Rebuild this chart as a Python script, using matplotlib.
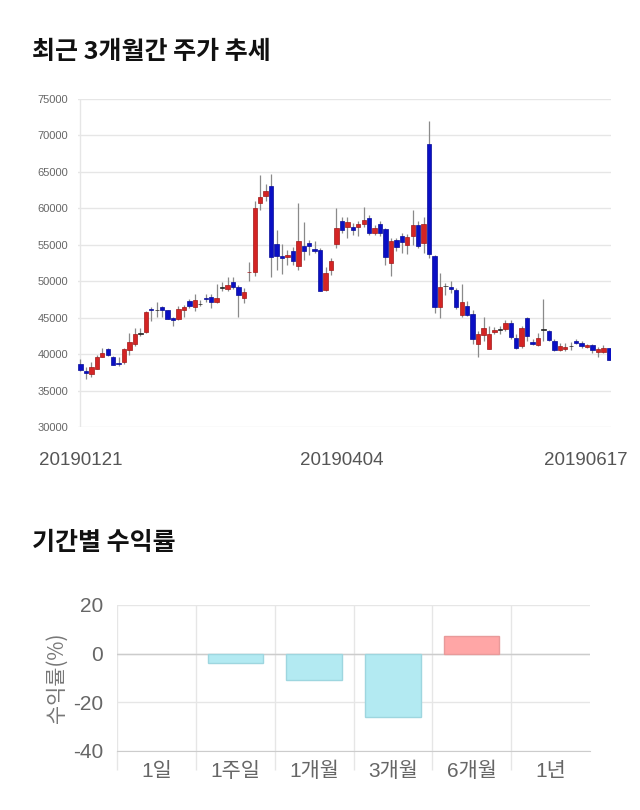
import numpy as np
import matplotlib
matplotlib.use("Agg")
from matplotlib import pyplot as plt
from matplotlib.patches import Rectangle
import matplotlib.transforms as mtransforms

plt.rcParams['font.family'] = ['Liberation Sans', 'Noto Sans CJK KR', 'DejaVu Sans']
plt.rcParams['axes.unicode_minus'] = False

# ---- 주가 (시가, 고가, 저가, 종가) ----
opens = [38700, 37700, 37300, 38000, 39650, 40750, 39650, 38800, 38900, 40600,
         41400, 42750, 43100, 46250, 46000, 46450, 46000, 44900, 44800, 46000,
         47300, 46400, 46850, 47700, 47850, 47200, 49100, 49000, 49850, 49200,
         47700, 51200, 51200, 60750, 61750, 63100, 55150, 53450, 53300, 54150,
         52100, 54800, 55250, 54450, 54300, 48800, 51500, 55150, 58200, 57500,
         57450, 57500, 57850, 58650, 56600, 57850, 57200, 52500, 55650, 56200,
         55000, 56250, 57750, 55250, 68800, 53400, 46500, 49300, 49250, 48750,
         45300, 46550, 45550, 41350, 42650, 40700, 43100, 43350, 43400, 44200,
         42200, 41100, 45000, 41700, 41300, 43300, 43200, 41800, 40550, 40650,
         41100, 41800, 41550, 41000, 41250, 40350, 40350, 40900]
highs = [39300, 38200, 38850, 39900, 40900, 40850, 39700, 39650, 40900, 42950,
         43650, 43550, 45900, 46450, 47150, 46600, 46100, 45100, 46600, 46800,
         47500, 48200, 47450, 48200, 48200, 49650, 49900, 50550, 50550, 49550,
         49050, 52650, 61000, 64550, 63400, 64650, 57000, 55150, 54300, 54650,
         60700, 58100, 55700, 55450, 54550, 51900, 53200, 60000, 58850, 58850,
         57950, 58200, 60150, 59100, 57700, 58200, 57350, 55900, 55900, 56600,
         56450, 59750, 58200, 58850, 72050, 53650, 51150, 49800, 50000, 49100,
         49650, 47300, 46000, 43200, 45100, 43850, 43750, 43850, 44650, 44650,
         42750, 43850, 45100, 42050, 42950, 47600, 43300, 42050, 41550, 41550,
         41650, 42050, 41800, 41450, 41450, 41000, 41250, 40900]
lows = [37700, 36600, 36800, 37900, 39550, 39800, 38500, 38400, 38650, 39900,
        41150, 42450, 42950, 44550, 45050, 45050, 44800, 43900, 44650, 45050,
        46350, 45900, 46650, 47150, 46350, 47050, 48650, 48650, 48900, 45100,
        46950, 50000, 50700, 59750, 61000, 50600, 51600, 51000, 52250, 52250,
        51600, 52950, 53650, 53850, 48650, 48650, 50900, 54550, 56600, 55900,
        56400, 56200, 57500, 56400, 56400, 56200, 52200, 50650, 54100, 53850,
        53700, 55000, 54550, 53900, 53200, 45650, 45000, 48100, 48450, 46150,
        45100, 45250, 41350, 39650, 41800, 40700, 42750, 42800, 43200, 42050,
        40700, 40900, 41800, 41200, 41150, 41800, 41800, 40400, 40400, 40450,
        40500, 41350, 40800, 40800, 40150, 39650, 40100, 39200]
closes = [37800, 37450, 38300, 39550, 40200, 39900, 38550, 38600, 40700, 41700,
          42750, 42750, 45800, 46050, 46000, 46100, 44800, 44650, 46250, 46450,
          46650, 47450, 46850, 47500, 47150, 47700, 49100, 49450, 49200, 48100,
          48500, 51300, 60100, 61500, 62400, 53300, 53400, 53200, 53650, 52800,
          55450, 54100, 54850, 54200, 48650, 51150, 52750, 57300, 57050, 58100,
          57050, 57850, 58450, 56550, 57350, 56550, 53300, 55550, 54650, 55350,
          56000, 57750, 54900, 57850, 53750, 46450, 49200, 49300, 48900, 46450,
          47150, 45350, 42050, 42800, 43550, 42800, 43300, 43350, 44250, 42350,
          40900, 43550, 42500, 41450, 42200, 43300, 41900, 40550, 41100, 41000,
          41100, 41500, 41100, 41250, 40550, 40650, 40900, 39200]
date_labels = ['20190121', '20190404', '20190617']
date_index = [0, 48, 97]

# ---- 기간별 수익률 ----
periods = ['1일', '1주일', '1개월', '3개월', '6개월', '1년']
returns = [0.0, -3.7, -10.8, -26.0, 7.3, 0.0]

fig = plt.figure(figsize=(6.4, 8.1), dpi=100)
W, H = 640, 810

def box(l, t, r, b):
    return [l / W, 1 - b / H, (r - l) / W, (b - t) / H]

# titles
fig.text(32 / W, 1 - 52 / H, '최근 3개월간 주가 추세', fontsize=18, fontweight='bold',
         va='center', ha='left', color='#111111', family=['Noto Sans CJK KR'])
fig.text(32 / W, 1 - 543 / H, '기간별 수익률', fontsize=18, fontweight='bold',
         va='center', ha='left', color='#111111', family=['Noto Sans CJK KR'])

# ---- candlestick ----
ax = fig.add_axes(box(78, 99, 611, 427))
n = len(opens)
bw = 0.8
for i in range(n):
    o, h, l, c = opens[i], highs[i], lows[i], closes[i]
    ax.plot([i, i], [l, h], color='#8a8a8a', lw=0.9, zorder=2, solid_capstyle='butt')
    if c > o:
        fc, ec = '#d42424', '#a01818'
    elif c < o:
        fc, ec = '#0a0fc4', '#070c98'
    else:
        fc, ec = '#222222', '#222222'
    lo = min(o, c)
    hgt = max(abs(c - o), 80)
    ax.add_patch(Rectangle((i - bw / 2, lo), bw, hgt, facecolor=fc, edgecolor=ec,
                           lw=0.5, zorder=3))
ax.set_xlim(-0.45, n - 0.6)
ax.set_ylim(30000, 75000)
ax.set_yticks(np.arange(30000, 75001, 5000))
ax.yaxis.grid(True, color='#e6e6e6', lw=1)
ax.axvline(0, color='#e6e6e6', lw=1, zorder=0)
ax.set_axisbelow(True)
for s in ax.spines.values():
    s.set_visible(False)
ax.tick_params(axis='y', length=0, pad=7, labelsize=8, labelcolor='#666666')
ax.set_xticks(date_index)
ax.set_xticklabels(date_labels)
ax.tick_params(axis='x', length=0, pad=18, labelsize=13.5, labelcolor='#555555')
last = ax.get_xticklabels()[-1]
last.set_ha('right')
last.set_transform(last.get_transform() + mtransforms.ScaledTranslation(19 / 100, 0, fig.dpi_scale_trans))

# ---- returns bar chart ----
bx = fig.add_axes(box(117, 605, 590, 751))
for i, v in enumerate(returns):
    if v == 0:
        continue
    fc = '#ffa6a6' if v > 0 else '#b3eaf2'
    ec = '#e89a9a' if v > 0 else '#9ed6df'
    bx.bar(i, v, width=0.7, color=fc, edgecolor=ec, lw=1, zorder=3)
bx.set_xlim(-0.5, len(periods) - 0.5)
bx.set_ylim(-40, 20)
bx.set_yticks([-40, -20, 0, 20])
bx.yaxis.grid(True, color='#e6e6e6', lw=1)
bx.axhline(0, color='#cccccc', lw=1, zorder=2)
bx.set_xticks(np.arange(len(periods)))
bx.set_xticklabels(periods)
bx.set_xticks(np.arange(-0.5, len(periods) - 1), minor=True)
bx.xaxis.grid(True, which='minor', color='#e6e6e6', lw=1)
bx.tick_params(axis='x', which='minor', length=14, color='#e6e6e6', width=1)
bx.tick_params(axis='x', which='major', length=0, pad=8, labelsize=15, labelcolor='#666666')
bx.tick_params(axis='y', length=0, pad=10, labelsize=15, labelcolor='#666666')
for s in ['top', 'right', 'left']:
    bx.spines[s].set_visible(False)
bx.spines['bottom'].set_color('#cccccc')
bx.set_axisbelow(True)
bx.set_ylabel('수익률(%)', fontsize=15, color='#777777', labelpad=4,
              family=['Noto Sans CJK KR'])

fig.savefig('out.png', dpi=100, facecolor='white')
